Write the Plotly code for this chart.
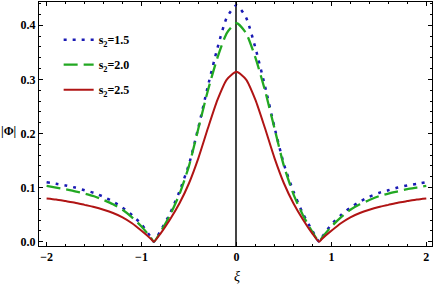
import plotly.graph_objects as go

xi = [-2.0, -1.9, -1.8, -1.7, -1.6, -1.5, -1.4, -1.3, -1.2, -1.1, -1.0, -0.9, -0.87,
      -0.8, -0.7, -0.6, -0.5, -0.4, -0.3, -0.2, -0.1, 0.0,
      0.1, 0.2, 0.3, 0.4, 0.5, 0.6, 0.7, 0.8, 0.87,
      0.9, 1.0, 1.1, 1.2, 1.3, 1.4, 1.5, 1.6, 1.7, 1.8, 1.9, 2.0]

phi_s15 = [0.110, 0.107, 0.104, 0.100, 0.095, 0.090, 0.083, 0.074, 0.063, 0.049, 0.032, 0.008, 0.0,
           0.020, 0.052, 0.093, 0.143, 0.212, 0.288, 0.358, 0.415, 0.437,
           0.415, 0.358, 0.288, 0.212, 0.143, 0.093, 0.052, 0.020, 0.0,
           0.008, 0.032, 0.049, 0.063, 0.074, 0.083, 0.090, 0.095, 0.100, 0.104, 0.107, 0.110]

phi_s20 = [0.103, 0.100, 0.097, 0.093, 0.089, 0.084, 0.077, 0.069, 0.059, 0.045, 0.028, 0.007, 0.0,
           0.018, 0.049, 0.088, 0.140, 0.210, 0.280, 0.340, 0.386, 0.404,
           0.386, 0.340, 0.280, 0.210, 0.140, 0.088, 0.049, 0.018, 0.0,
           0.007, 0.028, 0.045, 0.059, 0.069, 0.077, 0.084, 0.089, 0.093, 0.097, 0.100, 0.103]

phi_s25 = [0.080, 0.078, 0.075, 0.072, 0.068, 0.064, 0.059, 0.053, 0.045, 0.034, 0.020, 0.005, 0.0,
           0.015, 0.041, 0.071, 0.108, 0.155, 0.210, 0.262, 0.300, 0.314,
           0.300, 0.262, 0.210, 0.155, 0.108, 0.071, 0.041, 0.015, 0.0,
           0.005, 0.020, 0.034, 0.045, 0.053, 0.059, 0.064, 0.068, 0.072, 0.075, 0.078, 0.080]

names = ["<b>s<sub>2</sub>=1.5</b>", "<b>s<sub>2</sub>=2.0</b>", "<b>s<sub>2</sub>=2.5</b>"]
x_ticks = [-2, -1, 0, 1, 2]
x_ticklabels = ["<b>−2</b>", "<b>−1</b>", "<b>0</b>", "<b>1</b>", "<b>2</b>"]
y_ticks = [0.0, 0.1, 0.2, 0.3, 0.4]
y_ticklabels = ["<b>0.0</b>", "<b>0.1</b>", "<b>0.2</b>", "<b>0.3</b>", "<b>0.4</b>"]

serif = "Liberation Serif"

fig = go.Figure()
fig.add_trace(go.Scatter(x=xi, y=phi_s15, name=names[0], mode="lines", legendgroup="a",
                         line=dict(color="#1a1ab4", width=2.5, dash="3px,6px", shape="spline", smoothing=0.6)))
fig.add_trace(go.Scatter(x=xi, y=phi_s20, name=names[1], mode="lines", legendgroup="b",
                         line=dict(color="#22a822", width=2.3, dash="14px,6px", shape="spline", smoothing=0.6)))
fig.add_trace(go.Scatter(x=xi, y=phi_s25, name=names[2], mode="lines", legendgroup="c",
                         line=dict(color="#b01414", width=2, shape="spline", smoothing=0.6)))

fig.update_layout(
    width=436, height=284,
    margin=dict(l=39, r=4, t=2, b=38),
    paper_bgcolor="white", plot_bgcolor="white",
    font=dict(family=serif, size=12, color="black"),
    showlegend=True,
    legend=dict(x=0.05, y=0.905, xanchor="left", yanchor="top",
                bgcolor="rgba(0,0,0,0)", borderwidth=0,
                font=dict(family=serif, size=12, color="black"),
                tracegroupgap=6, itemwidth=30),
)

fig.update_xaxes(
    range=[-2.08, 2.06], tickvals=x_ticks, ticktext=x_ticklabels,
    ticks="inside", ticklen=4, tickwidth=1, tickcolor="black",
    minor=dict(dtick=0.2, ticks="inside", ticklen=2, tickcolor="black", showgrid=False),
    showline=True, linecolor="black", linewidth=1, mirror="ticks",
    showgrid=False, zeroline=True, zerolinecolor="#444444", zerolinewidth=1.5,
    tickfont=dict(family=serif, size=12, color="black"),
)
fig.update_yaxes(
    range=[-0.008, 0.443], tickvals=y_ticks, ticktext=y_ticklabels,
    ticks="inside", ticklen=4, tickwidth=1, tickcolor="black",
    minor=dict(dtick=0.02, tick0=0, ticks="inside", ticklen=2, tickcolor="black", showgrid=False),
    showline=True, linecolor="black", linewidth=1, mirror="ticks",
    showgrid=False, zeroline=False,
    tickfont=dict(family=serif, size=12, color="black"),
)

fig.add_annotation(text="<b>|Φ|</b>", xref="paper", yref="paper", x=-0.078, y=0.47,
                   xanchor="center", yanchor="middle", showarrow=False,
                   font=dict(family=serif, size=12, color="black"))
fig.add_annotation(text="<i>ξ</i>", xref="paper", yref="paper", x=0.503, y=-0.125,
                   xanchor="center", yanchor="middle", showarrow=False,
                   font=dict(family=serif, size=14, color="black"))

fig.write_html("out.html", config={"displayModeBar": False},
               post_script="document.body.style.margin='0';document.body.style.padding='0';")
